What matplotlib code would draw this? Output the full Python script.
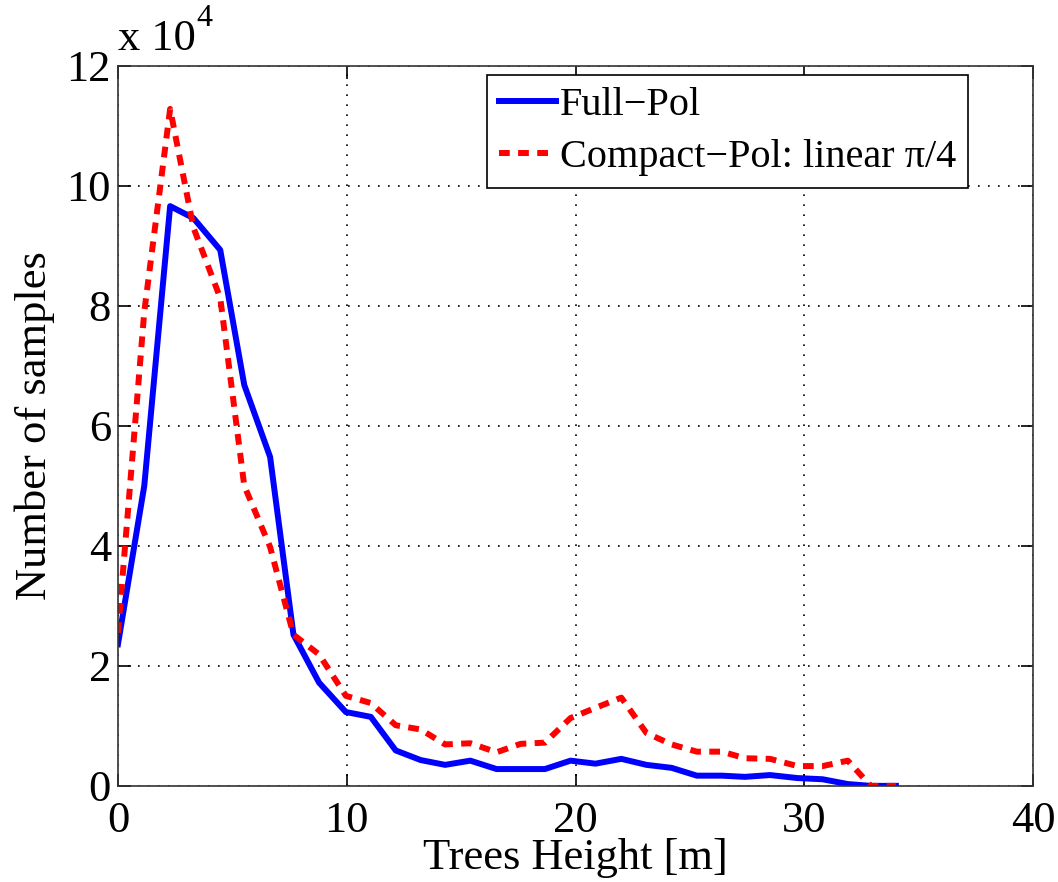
import numpy as np
import matplotlib
matplotlib.use('Agg')
import matplotlib.pyplot as plt

plt.rcParams['font.family'] = ['Liberation Serif', 'DejaVu Serif']

# Alturas de los arboles (centros de clase)
altura = [0.0, 1.15, 2.28, 3.3, 4.47, 5.52, 6.65, 7.67, 8.79, 9.96, 11.05,
          12.14, 13.23, 14.3, 15.4, 16.55, 17.6, 18.66, 19.78, 20.87, 22.0,
          23.1, 24.2, 25.3, 26.4, 27.4, 28.5, 29.7, 30.8, 31.9, 32.9, 34.0]

# Numero de muestras (x 10^4)
full_pol = [2.36, 5.0, 9.66, 9.46, 8.93, 6.68, 5.48, 2.52, 1.72, 1.23, 1.15,
            0.59, 0.43, 0.35, 0.42, 0.28, 0.28, 0.28, 0.42, 0.37, 0.45,
            0.35, 0.30, 0.17, 0.17, 0.15, 0.18, 0.13, 0.11, 0.03, 0.0, 0.0]
compact_pol = [2.55, 7.9, 11.28, 9.3, 8.13, 5.0, 3.98, 2.52, 2.19, 1.5, 1.38,
               1.01, 0.94, 0.69, 0.71, 0.56, 0.70, 0.72, 1.13, 1.30, 1.47,
               0.88, 0.69, 0.57, 0.57, 0.46, 0.45, 0.33, 0.33, 0.42, 0.0, 0.0]

xticks = [0, 10, 20, 30, 40]
yticks = [0, 2, 4, 6, 8, 10, 12]

fs = 32

fig = plt.figure(figsize=(10.58, 8.82), dpi=100)
ax = fig.add_axes([0.1115, 0.109, 0.865, 0.8165])

ax.plot(altura, full_pol, color='blue', lw=4.3, label='Full\u2212Pol')
ax.plot(altura, compact_pol, color='red', lw=4.3, dashes=(1.8, 1.4),
        label='Compact\u2212Pol: linear \u03c0/4')

ax.set_xlim(0, 40)
ax.set_ylim(0, 12)
ax.set_xticks(xticks)
ax.set_yticks(yticks)
ax.tick_params(direction='in', length=9, width=1.2, labelsize=fs,
               top=True, right=True)
ax.tick_params(axis='x', pad=11)
ax.tick_params(axis='y', pad=5)
for s in ax.spines.values():
    s.set_linewidth(1.2)
    s.set_color('#333333')

ax.grid(True, linestyle=(0, (1, 5)), color='black', linewidth=1.2)

ax.set_xlabel('Trees Height [m]', fontsize=fs, labelpad=-2)
ax.set_ylabel('Number of samples', fontsize=fs, labelpad=8)

ax.text(0.0, 1.01, 'x 10', transform=ax.transAxes, fontsize=fs,
        ha='left', va='bottom')
ax.text(0.086, 1.045, '4', transform=ax.transAxes, fontsize=fs * 0.72,
        ha='left', va='bottom')

leg = ax.legend(loc='upper right', bbox_to_anchor=(0.929, 0.987),
                fontsize=29, frameon=True, fancybox=False,
                edgecolor='black', framealpha=1, handlelength=1.4,
                handletextpad=0.1, borderpad=0.3, labelspacing=0.35,
                borderaxespad=0.0)
leg.get_frame().set_linewidth(1.2)

fig.savefig('out.png', dpi=100)
